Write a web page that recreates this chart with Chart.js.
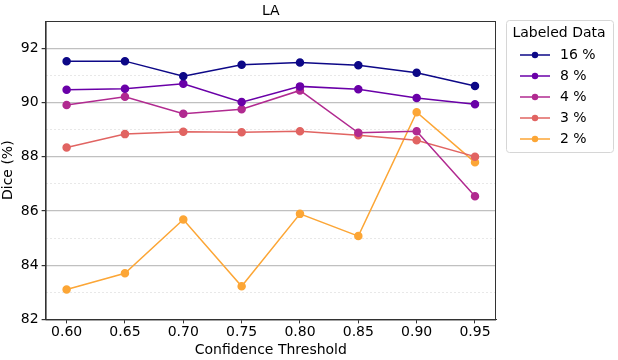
<!DOCTYPE html>
<html>
<head>
<meta charset="utf-8">
<script src="https://cdn.jsdelivr.net/npm/chart.js@4/dist/chart.umd.min.js"></script>
<style>
  body { margin: 0; background: #fff; }
</style>
</head>
<body>
<canvas id="myChart" width="618" height="360"></canvas>
<script>
const thresholds = [0.60, 0.65, 0.70, 0.75, 0.80, 0.85, 0.90, 0.95];
const seriesNames = ["16 %", "8 %", "4 %", "3 %", "2 %"];
const dice16 = [91.52, 91.52, 90.96, 91.39, 91.47, 91.37, 91.09, 90.60];
const dice8 = [90.47, 90.50, 90.69, 90.01, 90.59, 90.48, 90.16, 89.93];
const dice4 = [89.90, 90.21, 89.58, 89.75, 90.44, 88.88, 88.94, 86.54];
const dice3 = [88.34, 88.83, 88.92, 88.90, 88.94, 88.79, 88.60, 88.00];
const dice2 = [83.10, 83.70, 85.68, 83.22, 85.89, 85.07, 89.64, 87.79];
const yTicks = [82, 84, 86, 88, 90, 92];

const colors = ['#0d0887', '#6a00a8', '#b12a90', '#e16462', '#fca636'];
const FONT = 'DejaVu Sans';

// legend marker: short line with a dot
function marker(color) {
    const c = document.createElement('canvas');
    c.width = 34; c.height = 10;
    const g = c.getContext('2d');
    g.strokeStyle = color; g.lineWidth = 1.5;
    g.beginPath(); g.moveTo(1, 5); g.lineTo(31, 5); g.stroke();
    g.fillStyle = color;
    g.beginPath(); g.arc(16, 5, 3.2, 0, Math.PI * 2); g.fill();
    return c;
}

const isMajor = (c) => c.tick && yTicks.includes(c.tick.value);

const allSeries = [dice16, dice8, dice4, dice3, dice2];
const datasets = allSeries.map((vals, i) => ({
    label: seriesNames[i],
    data: vals.map((v, j) => ({ x: thresholds[j], y: v })),
    borderColor: colors[i],
    backgroundColor: colors[i],
    borderWidth: 1.5,
    pointRadius: 3.5,
    pointHoverRadius: 3.5,
    pointStyle: 'circle',
    fill: false,
    tension: 0
}));
const markers = colors.map(marker);

const extras = {
    id: 'extras',
    afterInit(chart) {
        // legend box wider than chart.js would make it
        const lg = chart.legend;
        const fit = lg.fit;
        lg.fit = function () { fit.call(this); this.width = 120; };
    },
    afterLayout(chart) {
        // items start at left + padding, title is centred on left + width / 2
        const lg = chart.legend;
        lg.left = 512;
        lg.width = (559 - lg.left) * 2;
        lg.right = lg.left + lg.width;
    },
    afterDraw(chart) {
        const ctx = chart.ctx;
        const a = chart.chartArea;
        ctx.save();
        ctx.fillStyle = '#000';
        ctx.font = '14px ' + FONT;
        ctx.textAlign = 'center';
        ctx.textBaseline = 'bottom';
        ctx.fillText('LA', (a.left + a.right) / 2, a.top - 3);
        // plot frame
        ctx.strokeStyle = '#333';
        ctx.lineWidth = 1;
        ctx.strokeRect(a.left + 0.5, a.top + 0.5, a.right - a.left - 1, a.bottom - a.top);
        // legend frame
        ctx.strokeStyle = '#d6d6d6';
        ctx.beginPath();
        ctx.roundRect(506.5, 20.5, 107, 132, 3);
        ctx.stroke();
        ctx.restore();
    }
};

const ctx = document.getElementById('myChart').getContext('2d');

window.config = {
    type: 'line',
    data: { datasets: datasets },
    options: {
        responsive: false,
        animation: false,
        layout: { padding: { top: 21, right: 2, left: 0, bottom: 1 } },
        plugins: {
            tooltip: { enabled: false },
            legend: {
                position: 'right',
                align: 'start',
                title: {
                    display: true,
                    text: 'Labeled Data',
                    color: '#000',
                    font: { family: FONT, size: 14, lineHeight: 1 },
                    padding: { top: 5, bottom: 1 }
                },
                labels: {
                    color: '#000',
                    font: { family: FONT, size: 14 },
                    usePointStyle: true,
                    pointStyleWidth: 34,
                    padding: 7,
                    generateLabels: (chart) => chart.data.datasets.map((d, i) => ({
                        text: d.label,
                        pointStyle: markers[i],
                        fillStyle: colors[i],
                        strokeStyle: colors[i],
                        lineWidth: 0,
                        datasetIndex: i
                    }))
                }
            }
        },
        scales: {
            x: {
                type: 'linear',
                min: 0.582,
                max: 0.968,
                afterBuildTicks: (axis) => { axis.ticks = thresholds.map(v => ({ value: v })); },
                ticks: {
                    color: '#000',
                    font: { family: FONT, size: 14 },
                    maxRotation: 0,
                    padding: 1,
                    callback: (v) => Number(v).toFixed(2)
                },
                grid: { display: true, drawOnChartArea: false, tickLength: 4, color: '#333' },
                border: { color: '#333' },
                title: {
                    display: true,
                    text: 'Confidence Threshold',
                    color: '#000',
                    font: { family: FONT, size: 14 },
                    padding: { top: 0, bottom: 0 }
                }
            },
            y: {
                min: 82,
                max: 93,
                afterBuildTicks: (axis) => {
                    const t = [];
                    for (let v = 82; v <= 93; v++) t.push({ value: v });
                    axis.ticks = t;
                },
                ticks: {
                    color: '#000',
                    font: { family: FONT, size: 14 },
                    padding: 3,
                    callback: (v) => yTicks.includes(v) ? String(v) : ''
                },
                grid: {
                    color: (c) => isMajor(c) ? '#c0c0c0' : '#e2e2e2',
                    lineWidth: (c) => isMajor(c) ? 1.2 : 0.8,
                    tickLength: 4,
                    tickColor: (c) => isMajor(c) ? '#333' : 'rgba(0,0,0,0)'
                },
                border: {
                    color: '#333',
                    dash: (c) => isMajor(c) ? [] : [2, 2]
                },
                title: {
                    display: true,
                    text: 'Dice (%)',
                    color: '#000',
                    font: { family: FONT, size: 14 },
                    padding: { top: 0, bottom: 1 }
                }
            }
        }
    },
    plugins: [extras]
};

window.myChart = new Chart(ctx, config);
</script>
</body>
</html>
